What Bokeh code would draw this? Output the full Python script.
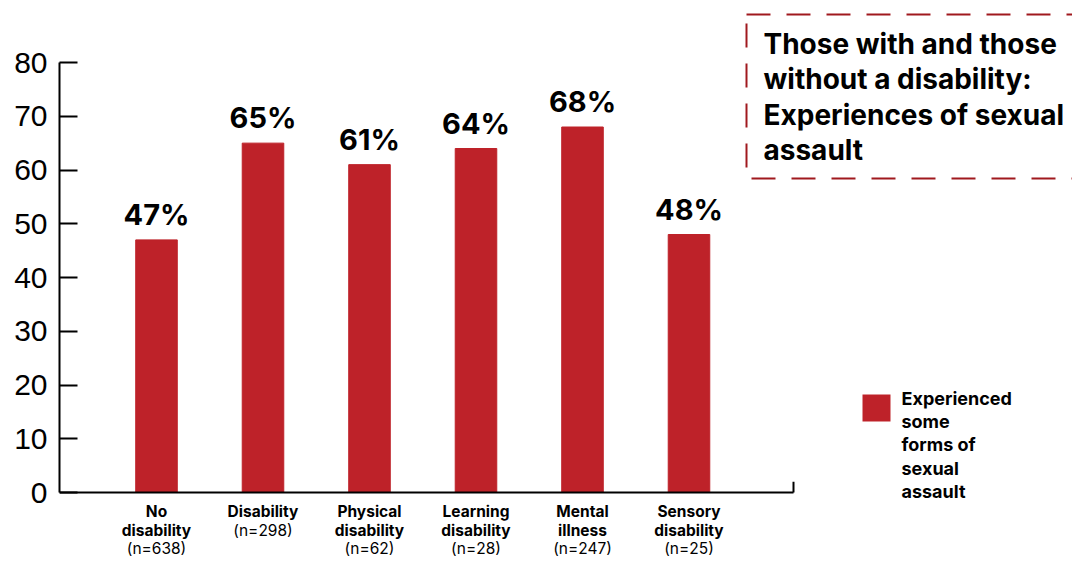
from bokeh.plotting import figure
from bokeh.models import Range1d, FixedTicker, BoxAnnotation, ColumnDataSource
from bokeh.core.properties import value
from bokeh.embed import file_html
from bokeh.resources import INLINE

# ---------------- data ----------------
categories = ["No\ndisability", "Disability", "Physical\ndisability",
              "Learning\ndisability", "Mental\nillness", "Sensory\ndisability"]
sample_sizes = ["(n=638)", "(n=298)", "(n=62)", "(n=28)", "(n=247)", "(n=25)"]
values = [47, 65, 61, 64, 68, 48]
y_ticks = [0, 10, 20, 30, 40, 50, 60, 70, 80]
title_lines = ["Those with and those", "without a disability:",
               "Experiences of sexual", "assault"]
legend_lines = ["Experienced", "some", "forms of", "sexual", "assault"]

# ---------------- styling ----------------
BAR = "#BE2229"
BOX = "#A0191E"
BOLD = "Inter"

W, H = 1072, 557
LEFT = 59                      # frame left (canvas px)
PX_X = 106.5                   # px per category unit
PX_Y = 5.375                   # px per value unit
ZERO_Y = 492                   # canvas y of value 0
X0 = 1 - (156 - LEFT) / PX_X
X1 = X0 + (W - LEFT) / PX_X
Y0 = -(H - ZERO_Y) / PX_Y
Y1 = Y0 + H / PX_Y

def u(xc):   # canvas x -> data x
    return X0 + (xc - LEFT) / PX_X

def v(yc):   # canvas y -> data y
    return Y0 + (H - yc) / PX_Y

p = figure(width=W, height=H, output_backend="svg", toolbar_location=None,
           x_range=Range1d(X0, X1), y_range=Range1d(Y0, Y1),
           x_axis_location=None, min_border_left=LEFT, min_border_right=0,
           min_border_top=0, min_border_bottom=0)
p.outline_line_color = None
p.xgrid.visible = False
p.ygrid.visible = False
p.background_fill_color = "white"
p.border_fill_color = "white"

xs = list(range(1, len(values) + 1))
src = ColumnDataSource(dict(x=xs, top=values, lab=[f"{val}%" for val in values]))
p.vbar(x="x", top="top", bottom=0, width=0.39, color=BAR, source=src)
p.text(x="x", y="top", text="lab", source=src, text_align="center",
       text_baseline="bottom", y_offset=-8, text_font=value(BOLD),
       text_font_style="bold", text_font_size="29px", text_color="black")

# y axis
ax = p.yaxis[0]
ax.ticker = FixedTicker(ticks=y_ticks)
ax.bounds = (0, 80)
ax.major_tick_in = 18
ax.major_tick_out = 0
ax.minor_tick_line_color = None
ax.axis_line_width = 2
ax.major_tick_line_width = 2
ax.axis_line_color = "black"
ax.major_tick_line_color = "black"
ax.major_label_text_font = "Liberation Sans"
ax.major_label_text_font_size = "30px"
ax.major_label_text_color = "black"
ax.major_label_standoff = 12

# baseline (x axis)
x_end = u(793)
p.segment(x0=[X0], y0=[0], x1=[x_end], y1=[0], line_color="black", line_width=2)
p.segment(x0=[x_end], y0=[0], x1=[x_end], y1=[2], line_color="black", line_width=2)

# category labels
LINE = 18.5
lx, lt, loff = [], [], []
nx, nt, noff = [], [], []
for i, (cat, n) in enumerate(zip(categories, sample_sizes)):
    parts = cat.split("\n")
    for j, part in enumerate(parts):
        lx.append(xs[i]); lt.append(part); loff.append(19 + LINE * j)
    nx.append(xs[i]); nt.append(n); noff.append(19 + LINE * len(parts))
p.text(x=lx, y=[0] * len(lx), text=lt, y_offset=loff, text_align="center",
       text_baseline="middle", text_font=value(BOLD), text_font_style="bold",
       text_font_size="15.5px", text_color="black")
p.text(x=nx, y=[0] * len(nx), text=nt, y_offset=noff, text_align="center",
       text_baseline="middle", text_font=value(BOLD), text_font_size="15.5px",
       text_color="black")

# title box
p.add_layout(BoxAnnotation(left=u(746), right=X1 + 1, top=v(14), bottom=v(178),
                           fill_color=None, fill_alpha=0, line_color=BOX,
                           line_alpha=1, line_width=2, line_dash="24 16"))
p.text(x=[u(763)] * len(title_lines),
       y=[v(43 + 35.5 * k) for k in range(len(title_lines))],
       text=title_lines, text_align="left", text_baseline="middle",
       text_font=value(BOLD), text_font_style="bold", text_font_size="28px",
       text_color="black")

# legend
p.add_layout(BoxAnnotation(left=u(862), right=u(890), top=v(394), bottom=v(421),
                           fill_color=BAR, fill_alpha=1, line_color=None))
p.text(x=[u(901)] * len(legend_lines),
       y=[v(398 + 23.2 * k) for k in range(len(legend_lines))],
       text=legend_lines, text_align="left", text_baseline="middle",
       text_font=value(BOLD), text_font_style="bold", text_font_size="18px",
       text_color="black")

open("out.html", "w").write(file_html(p, INLINE))
